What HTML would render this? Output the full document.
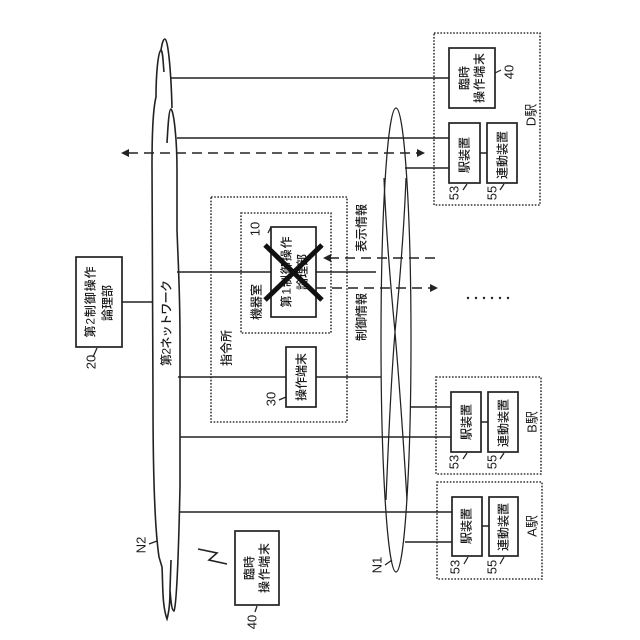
<!DOCTYPE html>
<html><head><meta charset="utf-8"><style>
html,body{margin:0;padding:0;background:#fff}
svg{display:block}
text{font-family:"Liberation Sans","Noto Sans CJK JP",sans-serif;font-size:12px;font-weight:500;fill:#1a1a1a;text-anchor:middle}
text.n{font-size:13px;font-weight:400}
.l{stroke:#222;stroke-width:1.6;fill:none}
.t{stroke:#222;stroke-width:1.25;fill:none}
.b{stroke:#222;stroke-width:1.7;fill:#fff}
.d{stroke:#333;stroke-width:1.6;fill:none;stroke-dasharray:1.6 1.6}
.a{stroke:#222;stroke-width:1.4;fill:none;stroke-dasharray:10 6}
</style></head><body>
<svg width="640" height="640" viewBox="0 0 640 640" xmlns="http://www.w3.org/2000/svg">
<rect width="640" height="640" fill="#fff"/>
<!-- dotted regions -->
<rect class="d" x="434" y="33" width="106" height="172"/>
<rect class="d" x="436" y="377" width="105" height="97"/>
<rect class="d" x="437" y="482" width="105" height="97"/>
<rect class="d" x="211" y="197" width="136" height="225"/>
<rect class="d" x="241" y="213" width="90" height="120"/>
<!-- solid connectors -->
<path class="l" d="M171 78H449M177 138H450M405 168H450M177 272H376M178 377H381M180 437H451M411 407H451M180 512H452M405 542H452M122 302H152M480 153H487M481 422H488M482 526H489"/>
<!-- dashed arrows -->
<path class="a" d="M128 153H419M329 258H436M316 288H431"/>
<path d="M121 153l8-4v8zM425 153l-8-4v8zM323 258l8-4v8zM438 288l-8-4v8z" fill="#222"/>
<!-- N2 cloud -->
<path class="l" d="M164 72C163 62 163 52 161 50C158 52 156 75 156 97C154 105 152 125 152 165L153 400C153 470 155 530 159 557L162 567C163 585 162 605 167 619C169 612 170 605 170 590M171 560L170 590C171 603 172 611 174 611C176 606 178 580 180 487L180 340C180 290 178 260 177 230L177 170C177 140 174 112 171 109C169 109 168 125 167 143M172 108C171 70 168 39 165 39C163 39 162 44 161 50"/>
<!-- N1 -->
<ellipse class="t" cx="396" cy="340" rx="15" ry="232"/>
<path class="t" d="M384 178C386 230 391 290 395 332C399 380 404 450 407 500M406 178C404 230 399 290 395 332C391 380 388 450 386 500"/>
<!-- boxes -->
<rect class="b" x="449" y="48" width="46" height="60"/>
<rect class="b" x="449" y="123" width="31" height="60"/>
<rect class="b" x="487" y="123" width="30" height="60"/>
<rect class="b" x="451" y="392" width="30" height="60"/>
<rect class="b" x="488" y="392" width="30" height="60"/>
<rect class="b" x="452" y="497" width="30" height="59"/>
<rect class="b" x="489" y="497" width="29" height="59"/>
<rect class="b" x="271" y="227" width="45" height="90"/>
<rect class="b" x="286" y="347" width="30" height="60"/>
<rect class="b" x="76" y="257" width="46" height="90"/>
<rect class="b" x="235" y="531" width="44" height="74"/>
<!-- leaders -->
<path class="t" d="M463 190L467 184M500 190L504 184M495 73L501 70M463 459L467 453M500 459L504 453M464 564L468 557M500 564L504 557M279 400L286 397M268 233L271 227M93 357L97 348M385 565L392 560M149 544L157 541M255 612L257 606"/>
<path class="l" d="M198 549L217 553L209 560L227 564"/>
<!-- labels -->
<g>
<text transform="translate(464,78) rotate(-90)" dy=".36em">臨時</text>
<text transform="translate(479,78) rotate(-90)" dy=".36em" textLength="50">操作端末</text>
<text class="n" transform="translate(509,72) rotate(-90)" dy=".36em">40</text>
<text class="n" transform="translate(531,115) rotate(-90)" dy=".36em">D駅</text>
<text transform="translate(464,155) rotate(-90)" dy=".36em">駅装置</text>
<text transform="translate(502,155) rotate(-90)" dy=".36em">連動装置</text>
<text class="n" transform="translate(454,193) rotate(-90)" dy=".36em">53</text>
<text class="n" transform="translate(492,193) rotate(-90)" dy=".36em">55</text>
<text transform="translate(466,422) rotate(-90)" dy=".36em">駅装置</text>
<text transform="translate(503,423) rotate(-90)" dy=".36em">連動装置</text>
<text class="n" transform="translate(454,462) rotate(-90)" dy=".36em">53</text>
<text class="n" transform="translate(492,462) rotate(-90)" dy=".36em">55</text>
<text class="n" transform="translate(532,422) rotate(-90)" dy=".36em">B駅</text>
<text transform="translate(466,526) rotate(-90)" dy=".36em">駅装置</text>
<text transform="translate(503,527) rotate(-90)" dy=".36em">連動装置</text>
<text class="n" transform="translate(455,567) rotate(-90)" dy=".36em">53</text>
<text class="n" transform="translate(492,567) rotate(-90)" dy=".36em">55</text>
<text class="n" transform="translate(532,526) rotate(-90)" dy=".36em">A駅</text>
<text transform="translate(226,348) rotate(-90)" dy=".36em">指令所</text>
<text transform="translate(256,302) rotate(-90)" dy=".36em">機器室</text>
<text class="n" transform="translate(255,229) rotate(-90)" dy=".36em">10</text>
<text transform="translate(286,272) rotate(-90)" dy=".36em" textLength="71">第1制御操作</text>
<text transform="translate(302,272) rotate(-90)" dy=".36em">論理部</text>
<text transform="translate(301,377) rotate(-90)" dy=".36em">操作端末</text>
<text class="n" transform="translate(271,399) rotate(-90)" dy=".36em">30</text>
<text transform="translate(361,228) rotate(-90)" dy=".36em">表示情報</text>
<text transform="translate(361,317) rotate(-90)" dy=".36em">制御情報</text>
<text transform="translate(90,302) rotate(-90)" dy=".36em" textLength="71">第2制御操作</text>
<text transform="translate(107,303) rotate(-90)" dy=".36em">論理部</text>
<text class="n" transform="translate(91,362) rotate(-90)" dy=".36em">20</text>
<text transform="translate(166,323) rotate(-90)" dy=".36em" textLength="86">第2ネットワーク</text>
<text class="n" transform="translate(141,545) rotate(-90)" dy=".36em">N2</text>
<text class="n" transform="translate(377,565) rotate(-90)" dy=".36em">N1</text>
<text transform="translate(249,568) rotate(-90)" dy=".36em">臨時</text>
<text transform="translate(264,568) rotate(-90)" dy=".36em" textLength="50">操作端末</text>
<text class="n" transform="translate(252,622) rotate(-90)" dy=".36em">40</text>
</g>
<!-- big X -->
<path d="M265 245L322 300M322 245L265 300" stroke="#111" stroke-width="5" fill="none"/>
<!-- ellipsis -->
<g fill="#222"><circle cx="468" cy="298" r="1.2"/><circle cx="476" cy="298" r="1.2"/><circle cx="484" cy="298" r="1.2"/><circle cx="492" cy="298" r="1.2"/><circle cx="500" cy="298" r="1.2"/><circle cx="508" cy="298" r="1.2"/></g>
</svg>
</body></html>
